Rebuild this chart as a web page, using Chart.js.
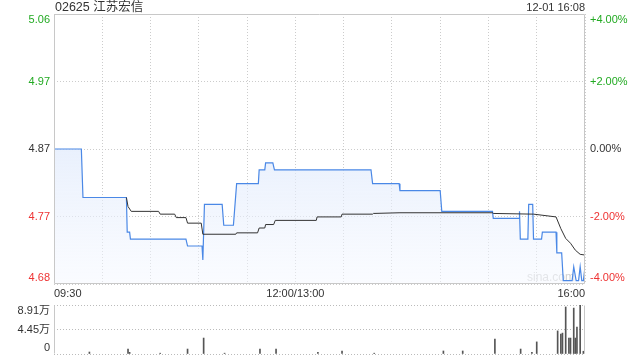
<!DOCTYPE html>
<html>
<head>
<meta charset="utf-8">
<script src="https://cdn.jsdelivr.net/npm/chart.js@4"></script>
<style>
  html, body { margin: 0; padding: 0; background: #fff; width: 640px; height: 360px; overflow: hidden; }
  #main { position: absolute; left: 0; top: 0; }
  #vol { position: absolute; left: 0; top: 300px; }
</style>
</head>
<body>
<canvas id="main" width="640" height="300"></canvas>
<canvas id="vol" width="640" height="60"></canvas>
<script>
// ---- data (x = minutes of trading since 09:30) ----
const prevClose = 4.87;
const pctTicks = [4, 2, 0, -2, -4];
const timeTicks = [0, 150, 330];
const timeLabels = ['09:30', '12:00/13:00', '16:00'];
const gridMinutes = [0, 30, 60, 90, 120, 150, 180, 210, 240, 270, 300, 330];

const priceMinutes = [0, 17, 18, 45, 45.5, 47, 47.5, 82, 83, 92, 92.5, 93.5, 104.5, 105.5, 111.5, 113.5,
  127, 127.5, 131, 131.5, 136, 137, 197, 198, 214.5, 215, 240, 241, 272.5, 273, 289, 289.3, 289.8,
  294.5, 295, 297.5, 298, 303, 303.5, 312, 312.5, 315.5, 316.5, 322, 323, 324.5, 326, 327, 328, 329, 330];
const priceValues = [4.87, 4.87, 4.80, 4.80, 4.75, 4.75, 4.74, 4.74, 4.73, 4.73, 4.71, 4.79, 4.79, 4.76, 4.76, 4.82,
  4.82, 4.84, 4.84, 4.85, 4.85, 4.84, 4.84, 4.82, 4.82, 4.81, 4.81, 4.78, 4.78, 4.77, 4.77, 4.78, 4.74,
  4.74, 4.79, 4.79, 4.74, 4.74, 4.75, 4.75, 4.72, 4.72, 4.68, 4.68, 4.70, 4.68, 4.68, 4.70, 4.68, 4.68, 4.70];

const avgMinutes = [45, 46, 48, 65, 66, 75, 76, 82, 83, 91.5, 92.5, 113, 113.5, 126.5, 127.5, 131, 131.5,
  136.5, 137.5, 163, 163.5, 178.5, 179, 198, 198.5, 215, 272.7, 273, 298, 312, 315, 318, 321, 324, 327, 330];
const avgValues = [4.80, 4.787, 4.78, 4.78, 4.776, 4.776, 4.771, 4.771, 4.763, 4.763, 4.747, 4.747, 4.749, 4.749,
  4.756, 4.756, 4.761, 4.761, 4.767, 4.767, 4.772, 4.772, 4.776, 4.776, 4.777, 4.778, 4.778, 4.777, 4.776,
  4.772, 4.755, 4.741, 4.734, 4.724, 4.718, 4.717];

const volMax = 89100;
const volTickLabels = ['8.91万', '4.45万', '0'];
const volMinutes = [22, 46, 47, 66, 83, 93, 106, 128, 138, 164, 179, 199, 242, 254, 274, 290, 297, 300,
  313, 315, 316, 318, 320, 321, 323, 324, 325, 327, 329];
const volValues = [3600, 9000, 3000, 1500, 9000, 29000, 1500, 9000, 9000, 3000, 5500, 1500, 5500, 5500, 27000,
  9000, 3000, 22000, 42000, 36000, 38000, 85500, 29000, 29000, 83500, 29000, 49000, 89100, 5000];

const GREEN = '#22aa22', RED = '#ee3333', DARK = '#333';
const FONT = "'Liberation Sans', Arial, 'Noto Sans CJK SC', sans-serif";
Chart.defaults.font.family = FONT;

const pricePoints = priceMinutes.map((m, i) => ({ x: m, y: priceValues[i] }));
const avgPoints = avgMinutes.map((m, i) => ({ x: m, y: avgValues[i] }));
const volPoints = volMinutes.map((m, i) => ({ x: m, y: volValues[i] }));
const priceTickValues = pctTicks.map(p => prevClose * (1 + p / 100));

function pctColor(p) { return p > 0 ? GREEN : (p < 0 ? RED : DARK); }

// solid frame round the plot area
function frame(sides) {
  return {
    id: 'frame',
    afterDraw(chart) {
      const a = chart.chartArea, ctx = chart.ctx;
      const l = Math.round(a.left) + 0.5, r = Math.round(a.right) - 0.5;
      const t = Math.round(a.top) + 0.5, b = Math.round(a.bottom) - 0.5;
      ctx.save();
      ctx.strokeStyle = '#c8c8c8';
      ctx.lineWidth = 1;
      ctx.beginPath();
      if (sides.includes('l')) { ctx.moveTo(l, t); ctx.lineTo(l, b); }
      if (sides.includes('r')) { ctx.moveTo(r, t); ctx.lineTo(r, b); }
      if (sides.includes('t')) { ctx.moveTo(l, t); ctx.lineTo(r, t); }
      if (sides.includes('b')) { ctx.moveTo(l, b); ctx.lineTo(r, b); }
      ctx.stroke();
      ctx.restore();
    }
  };
}

// tick labels placed from the scales, kept inside the plot area at the ends
const mainLabels = {
  id: 'mainLabels',
  beforeDatasetsDraw(chart) {
    const a = chart.chartArea, ctx = chart.ctx;
    ctx.save();
    ctx.fillStyle = '#d2d2d2';
    ctx.font = '12px ' + FONT;
    ctx.textAlign = 'right';
    ctx.textBaseline = 'middle';
    ctx.fillText('sina.com', a.right - 10, a.bottom - 6);
    ctx.restore();
  },
  afterDraw(chart) {
    const a = chart.chartArea, ctx = chart.ctx;
    const y = chart.scales.y, x = chart.scales.x;
    ctx.save();
    ctx.font = '11px ' + FONT;
    ctx.textBaseline = 'middle';
    priceTickValues.forEach((v, i) => {
      let py = y.getPixelForValue(v);
      py = Math.min(Math.max(py, a.top + 6), a.bottom - 6);
      ctx.fillStyle = pctColor(pctTicks[i]);
      ctx.textAlign = 'right';
      ctx.fillText(v.toFixed(2), a.left - 4, py);
      ctx.textAlign = 'left';
      const p = pctTicks[i];
      ctx.fillText((p > 0 ? '+' : '') + p.toFixed(2) + '%', a.right + 5, py);
    });
    ctx.fillStyle = DARK;
    timeTicks.forEach((m, i) => {
      ctx.textAlign = i === 0 ? 'left' : (i === timeTicks.length - 1 ? 'right' : 'center');
      ctx.fillText(timeLabels[i], x.getPixelForValue(m), a.bottom + 10);
    });
    ctx.font = '12.5px ' + FONT;
    ctx.textAlign = 'left';
    ctx.fillText('02625 江苏宏信', a.left + 1, 7.5);
    ctx.font = '11px ' + FONT;
    ctx.textAlign = 'right';
    ctx.fillText('12-01 16:08', a.right, 7.5);
    ctx.restore();
  }
};

const volLabels = {
  id: 'volLabels',
  afterDraw(chart) {
    const a = chart.chartArea, ctx = chart.ctx, y = chart.scales.y;
    ctx.save();
    ctx.font = '11px ' + FONT;
    ctx.textBaseline = 'middle';
    ctx.textAlign = 'right';
    ctx.fillStyle = DARK;
    [volMax, volMax / 2, 0].forEach((v, i) => {
      let py = y.getPixelForValue(v);
      py = Math.min(Math.max(py, a.top + 6), a.bottom - 6);
      ctx.fillText(volTickLabels[i], a.left - 4, py);
    });
    ctx.restore();
  }
};

function fillGradient(c) {
  const a = c.chart.chartArea;
  if (!a) return 'rgba(220,232,250,0.5)';
  const g = c.chart.ctx.createLinearGradient(0, a.top, 0, a.bottom);
  g.addColorStop(0, 'rgba(200,218,248,0.85)');
  g.addColorStop(1, 'rgba(245,248,255,0.5)');
  return g;
}

new Chart(document.getElementById('main'), {
  type: 'line',
  data: {
    datasets: [
      { data: avgPoints, borderColor: '#333', borderWidth: 1, pointRadius: 0, fill: false, tension: 0, order: 0 },
      { data: pricePoints, borderColor: '#4a88e6', borderWidth: 1.2, pointRadius: 0, tension: 0,
        fill: 'start', backgroundColor: fillGradient, order: 1 }
    ]
  },
  options: {
    responsive: false,
    animation: false,
    layout: { padding: { left: 54, right: 55, top: 14, bottom: 16 } },
    plugins: { legend: { display: false }, tooltip: { enabled: false } },
    scales: {
      x: {
        type: 'linear', min: 0, max: 330,
        afterBuildTicks: s => { s.ticks = gridMinutes.map(v => ({ value: v })); },
        afterFit: s => { s.height = 0; },
        ticks: { display: false },
        grid: { color: '#cccccc', drawTicks: false },
        border: { display: false, dash: [1, 2] }
      },
      y: {
        min: prevClose * 0.96, max: prevClose * 1.04,
        afterBuildTicks: s => { s.ticks = priceTickValues.map(v => ({ value: v })); },
        afterFit: s => { s.width = 0; },
        ticks: { display: false },
        grid: { color: '#cccccc', drawTicks: false },
        border: { display: false, dash: [1, 2] }
      }
    }
  },
  plugins: [mainLabels, frame('lrtb')]
});

new Chart(document.getElementById('vol'), {
  type: 'bar',
  data: {
    datasets: [{ data: volPoints, backgroundColor: '#555', barThickness: 1 }]
  },
  options: {
    responsive: false,
    animation: false,
    layout: { padding: { left: 54, right: 55, top: 5, bottom: 6 } },
    plugins: { legend: { display: false }, tooltip: { enabled: false } },
    scales: {
      x: {
        type: 'linear', min: 0, max: 330, offset: false,
        afterFit: s => { s.height = 0; },
        ticks: { display: false },
        grid: { display: false },
        border: { display: false }
      },
      y: {
        min: 0, max: volMax,
        afterBuildTicks: s => { s.ticks = [0, volMax / 2, volMax].map(v => ({ value: v })); },
        afterFit: s => { s.width = 0; },
        ticks: { display: false },
        grid: { color: '#bbbbbb', drawTicks: false },
        border: { display: false, dash: [1, 2] }
      }
    }
  },
  plugins: [volLabels, frame('lr')]
});
</script>
</body>
</html>
